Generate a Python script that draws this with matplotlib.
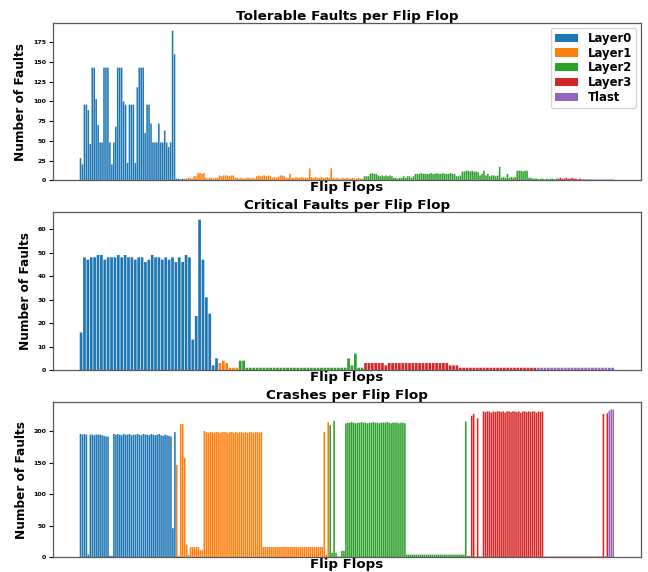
import matplotlib.pyplot as plt
import numpy as np

plt.rcParams["font.family"] = "DejaVu Sans"
plt.rcParams["font.weight"] = "bold"

layers = ["Layer0", "Layer1", "Layer2", "Layer3", "Tlast"]
colors = ["#1f77b4", "#ff7f0e", "#2ca02c", "#d62728", "#9467bd"]

# ----- Tolerable faults -----
tol_layer0 = [28, 20, 96, 96, 89, 46, 143, 143, 103, 70, 48, 48, 143, 143, 143,
              48, 20, 48, 68, 143, 143, 143, 100, 96, 22, 96, 96, 96, 22, 118,
              143, 143, 143, 60, 96, 96, 72, 48, 48, 48, 72, 48, 48, 63, 48,
              42, 48, 190, 160, 2, 2, 1, 2]
tol_layer1 = [2, 2, 3, 3, 2, 5, 5, 9, 9, 8, 9, 3, 2, 3, 3, 2, 3, 3,
              6, 5, 6, 6, 6, 5, 6, 6, 3, 3, 2, 3, 2, 2, 3, 3, 2, 3, 2,
              5, 6, 5, 6, 6, 5, 6, 5, 3, 4, 3, 4, 6, 6, 5,
              3, 3, 8, 3, 3, 4, 3, 3, 4, 3, 3, 3, 15,
              4, 3, 4, 3, 3, 4, 3, 3, 4, 3, 15,
              3, 2, 3, 2, 2, 3, 2, 3, 2, 2, 3, 2, 2, 3, 2, 2]
tol_layer2 = [5, 5, 5, 8, 9, 8, 8, 6, 5, 6, 5, 6, 5, 6, 5,
              3, 3, 2, 3, 3, 5, 3, 5, 5, 3, 5,
              8, 8, 8, 9, 8, 8, 8, 8, 9, 8, 8, 9, 8, 8, 9, 8, 8, 8, 9, 8, 8,
              5, 5, 6, 11, 11, 12, 12, 11, 12, 11, 11, 10,
              6, 8, 12, 6, 8, 5, 6, 6, 5, 6, 17,
              3, 4, 3, 8, 3, 4, 3, 4, 12, 12, 12, 11, 12, 12, 3, 3, 2,
              2, 2, 1, 2, 2, 1, 2, 1, 2, 2, 1, 2]
tol_layer3 = [2, 3, 2, 2, 3, 2, 2, 3, 2, 2, 1, 2, 1, 1, 1]
tol_tlast = [1, 1, 1, 1, 1, 1, 1, 1, 1, 1, 1, 1, 1, 1]

# ----- Critical faults -----
crit_layer0 = [16, 48, 47, 48, 48, 49, 49, 47, 48, 48, 48, 49, 48, 49, 48,
               48, 47, 48, 48, 46, 47, 49, 48, 48, 47, 48, 47, 48, 46, 48,
               46, 49, 48, 13, 23, 64, 47, 31, 24, 2, 5]
crit_layer1 = [3, 4, 3, 1, 1, 1]
crit_layer2 = [4, 4, 1, 1, 1, 1, 1, 1, 1, 1, 1, 1, 1, 1, 1, 1, 1, 1, 1,
               1, 1, 1, 1, 1, 1, 1, 1, 1, 1, 1, 1, 1, 5, 2, 7, 1, 1]
crit_layer3 = [3, 3, 3, 3, 3, 3, 2, 3, 3, 3, 3, 3, 3, 3, 3, 3, 3, 3, 3,
               3, 3, 3, 3, 3, 3, 2, 2, 2, 1, 1, 1, 1, 1, 1, 1, 1, 1, 1,
               1, 1, 1, 1, 1, 1, 1, 1, 1, 1, 1, 1, 1]
crit_tlast = [1, 1, 1, 1, 1, 1, 1, 1, 1, 1, 1, 1, 1, 1, 1, 1, 1, 1, 1,
              1, 1, 1, 1]

# ----- Crashes -----
crash_layer0 = [196, 195, 196, 195, 4, 195, 195, 194, 195, 195, 195, 194, 193,
                192, 192, 2, 2,
                196, 195, 196, 195, 194, 196, 195, 195, 196, 194, 195, 195,
                196, 195, 194, 196, 195, 195, 194, 196, 195, 194, 195, 196,
                194, 193, 195, 194, 193, 192, 46, 199]
crash_layer1 = [147, 2, 212, 212, 158, 20, 4, 16, 16, 16, 16, 16, 11, 11,
                201, 199, 198, 199, 199, 198, 199, 199, 198, 199, 199, 199,
                198, 199, 199, 198, 199, 198, 199, 199, 198, 199, 198, 199,
                199, 198, 199, 199, 198, 199,
                16, 16, 16, 16, 16, 16, 16, 16, 16, 16, 16, 16, 16, 16, 16, 16,
                16, 16, 16, 16, 16, 16, 16, 16, 16, 16, 16, 16, 16, 16, 16,
                199, 4, 215]
crash_layer2 = [210, 7, 217, 7, 1, 1, 10, 10,
                213, 214, 214, 215, 214, 213, 214, 214, 215, 214, 214, 213,
                214, 214, 215, 214, 214, 213, 214, 214, 214, 215, 214, 213,
                214, 214, 214, 213, 214, 214, 213,
                4, 4, 4, 4, 4, 4, 4, 4, 4, 4, 4, 4, 4, 4, 4,
                4, 4, 4, 4, 4, 4, 4, 4, 4, 4, 4, 4, 4, 4, 4,
                216, 2, 2]
crash_layer3 = [225, 228, 1, 221, 1, 1,
                232, 231, 232, 232, 230, 232, 231, 232, 232, 231, 232, 230,
                232, 232, 231, 232, 232, 231, 232, 230, 232, 232, 231, 232,
                231, 232, 232, 230, 232, 231, 232,
                1, 1, 1, 1, 1, 1, 1, 1, 1, 1, 1, 1, 1, 1, 1,
                1, 1, 1, 1, 1, 1, 1, 1, 1, 1, 1, 1, 1, 1, 1,
                228, 1, 229]
crash_tlast = [233, 235, 235]


def draw(ax, groups, title):
    start = 0
    for name, color, vals in zip(layers, colors, groups):
        x = np.arange(start, start + len(vals))
        # snap=False -> thin bars get antialiased instead of pixel-snapped
        ax.bar(x, vals, color=color, label=name, snap=False)
        start += len(vals)
    ax.set_title(title, fontsize=9.7, fontweight="bold", pad=2)
    ax.set_xlabel("Flip Flops", fontsize=9.6, fontweight="bold", labelpad=0.5)
    ax.set_ylabel("Number of Faults", fontsize=8.7, fontweight="bold")
    ax.set_xticks([])
    ax.tick_params(axis="y", labelsize=4.5, length=3, width=0.8, pad=2)
    for s in ax.spines.values():
        s.set_color("0.35")
        s.set_linewidth(0.9)


fig = plt.figure(figsize=(6.48, 5.72), dpi=100)
ax1 = fig.add_axes([0.0818, 0.685, 0.907, 0.2745])
ax2 = fig.add_axes([0.0818, 0.353, 0.907, 0.276])
ax3 = fig.add_axes([0.0818, 0.026, 0.907, 0.271])

draw(ax1, [tol_layer0, tol_layer1, tol_layer2, tol_layer3, tol_tlast],
     "Tolerable Faults per Flip Flop")
draw(ax2, [crit_layer0, crit_layer1, crit_layer2, crit_layer3, crit_tlast],
     "Critical Faults per Flip Flop")
draw(ax3, [crash_layer0, crash_layer1, crash_layer2, crash_layer3, crash_tlast],
     "Crashes per Flip Flop")

ax1.set_yticks([0, 25, 50, 75, 100, 125, 150, 175])
ax2.set_yticks([0, 10, 20, 30, 40, 50, 60])
ax3.set_yticks([0, 50, 100, 150, 200])

ax1.legend(loc="upper right", prop={"size": 8.4, "weight": "bold"},
           labelspacing=0.15, borderpad=0.35, borderaxespad=0.4)

fig.savefig("out.png", dpi=100)
